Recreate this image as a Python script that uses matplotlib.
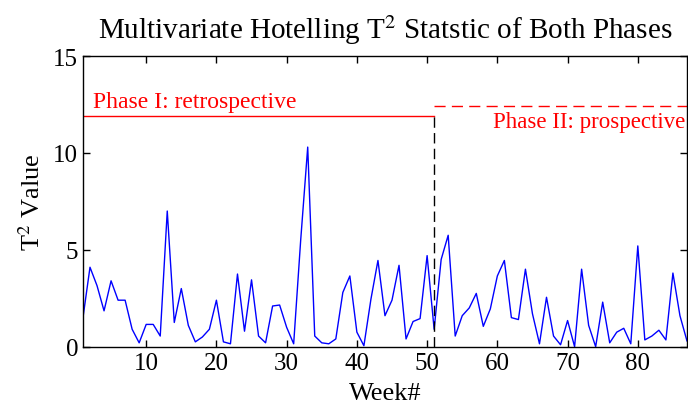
import matplotlib
matplotlib.use("Agg")
import matplotlib.pyplot as plt

# T^2 values per week
weeks = list(range(1, 88))
t2 = [1.5, 4.1, 3.15, 1.85, 3.4, 2.4, 2.4, 0.9, 0.2, 1.15,
      1.15, 0.55, 7.0, 1.25, 3.0, 1.1, 0.25, 0.5, 0.9, 2.4,
      0.25, 0.15, 3.75, 0.8, 3.45, 0.55, 0.2, 2.1, 2.15, 1.0,
      0.15, 5.5, 10.3, 0.55, 0.2, 0.15, 0.4, 2.8, 3.65, 0.75,
      0.05, 2.45, 4.45, 1.6, 2.4, 4.2, 0.4, 1.3, 1.45, 4.7,
      0.9, 4.5, 5.75, 0.55, 1.6, 2.0, 2.75, 1.05, 1.95, 3.65,
      4.45, 1.5, 1.4, 4.0, 1.7, 0.15, 2.55, 0.55, 0.1, 1.35,
      0.0, 4.0, 1.1, 0.0, 2.3, 0.2, 0.75, 0.95, 0.15, 5.2,
      0.35, 0.55, 0.85, 0.35, 3.8, 1.6, 0.3]

split_week = 51
phase1_level = 11.9
phase2_level = 12.4
x_ticks = [10, 20, 30, 40, 50, 60, 70, 80]
y_ticks = [0, 5, 10, 15]

plt.rcParams['font.family'] = ['Liberation Serif', 'DejaVu Serif']
plt.rcParams['mathtext.fontset'] = 'stix'

fig = plt.figure(figsize=(6.88, 4.06), dpi=100)
ax = fig.add_axes([0.1206, 0.1436, 0.8779, 0.716])

ax.plot(weeks, t2, color='#0000ff', lw=1.0)

# phase markers
ax.plot([weeks[0], split_week], [phase1_level, phase1_level], color='#ff0000', lw=1.0)
ax.plot([split_week, weeks[-1]], [phase2_level, phase2_level], color='#ff0000', lw=1.0,
        linestyle=(0, (8, 4.5)))
ax.plot([split_week, split_week], [0, phase1_level], color='black', lw=1.0,
        linestyle=(0, (7.5, 3.8)))

ax.text(2.4, 12.37, 'Phase I: retrospective', color='#ff0000', fontsize=17,
        ha='left', va='baseline')
ax.text(86.8, 11.34, 'Phase II: prospective', color='#ff0000', fontsize=16.5,
        ha='right', va='baseline')

ax.set_xlim(1, 87)
ax.set_ylim(0, 15)
ax.set_xticks(x_ticks)
ax.set_yticks(y_ticks)
ax.tick_params(direction='in', top=True, right=True, labelsize=18, length=5, width=1)
for s in ax.spines.values():
    s.set_linewidth(1.0)

ax.set_title('Multivariate Hotelling T$^2$ Statstic of Both Phases', fontsize=21, pad=13)
ax.set_xlabel('Week#', fontsize=19, labelpad=6)
ax.set_ylabel('T$^2$ Value', fontsize=19, labelpad=6)

fig.savefig('out.png', dpi=100)
